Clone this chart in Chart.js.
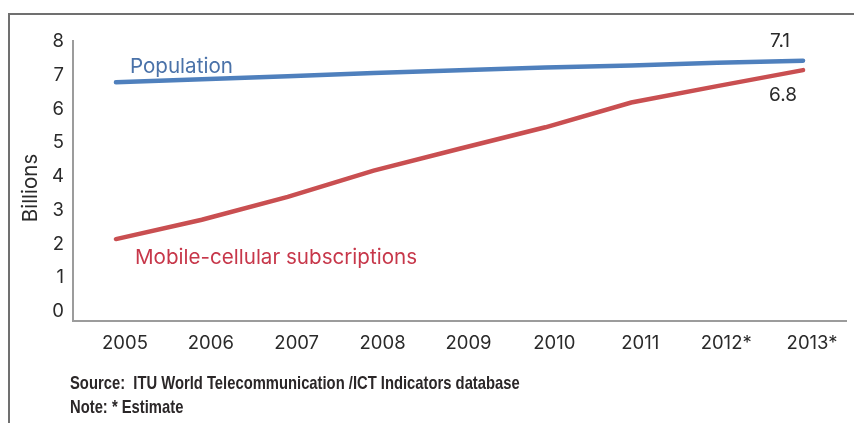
<!DOCTYPE html>
<html>
<head>
<meta charset="utf-8">
<script src="https://cdn.jsdelivr.net/npm/chart.js@4.4.0/dist/chart.umd.min.js"></script>
<style>
    body { margin: 0; background: #fff; }
    #wrap { position: relative; width: 854px; height: 423px; overflow: hidden; }
    #frame { position: absolute; left: 8px; top: 13px; width: 900px; height: 500px; border-top: 2px solid #707070; border-left: 2px solid #707070; }
    #chart { position: absolute; left: 0; top: 0; }
    .note { position: absolute; left: 70px; font: bold 18.5px 'Liberation Sans', Arial, sans-serif; color: #2b2728; white-space: pre; transform-origin: 0 0; }
</style>
</head>
<body>
<div id="wrap">
    <div id="frame"></div>
    <canvas id="chart" width="854" height="423"></canvas>
    <div class="note" id="source" style="top:372px">Source:  ITU World Telecommunication /ICT Indicators database</div>
    <div class="note" id="note" style="top:396px">Note: * Estimate</div>
</div>
<script>
// Chart data (billions)
const years = ["2005", "2006", "2007", "2008", "2009", "2010", "2011", "2012*", "2013*"];
const population = [6.51, 6.59, 6.67, 6.76, 6.84, 6.91, 6.97, 7.04, 7.1];
const mobileSubs = [2.2, 2.73, 3.36, 4.08, 4.68, 5.27, 5.95, 6.4, 6.84];
const yTickValues = [0, 1, 2, 3, 4, 5, 6, 7, 8];

const mainFont = "Inter, 'DejaVu Sans', sans-serif";
const textColor = "#2a2a2a";
const axisColor = "#9c9c9c";

// the footnote font is condensed in the original, squeeze the source line to its width
const sourceEl = document.getElementById("source");
const squeeze = 450 / sourceEl.offsetWidth;
sourceEl.style.transform = `scaleX(${squeeze})`;
document.getElementById("note").style.transform = `scaleX(${squeeze})`;

// Series names and end values written next to the lines
const annotate = {
    id: "annotate",
    afterDatasetsDraw(chart) {
        const ctx = chart.ctx;
        const xs = chart.scales.x, ys = chart.scales.y;
        const last = years.length - 1;
        ctx.save();
        ctx.textBaseline = "alphabetic";

        ctx.font = "20.6px " + mainFont;
        ctx.textAlign = "left";
        ctx.fillStyle = "#4a72a9";
        ctx.fillText("Population", xs.getPixelForValue(0) + 14, ys.getPixelForValue(population[0]) - 9);
        ctx.fillStyle = "#c7374a";
        ctx.fillText("Mobile-cellular subscriptions", xs.getPixelForValue(0) + 19, ys.getPixelForValue(mobileSubs[0]) + 25);

        ctx.font = "19px " + mainFont;
        ctx.textAlign = "center";
        ctx.fillStyle = textColor;
        ctx.fillText(population[last].toFixed(1), xs.getPixelForValue(last) - 23, ys.getPixelForValue(population[last]) - 14);
        ctx.fillText(mobileSubs[last].toFixed(1), xs.getPixelForValue(last) - 20, ys.getPixelForValue(mobileSubs[last]) + 31);

        // axis title
        ctx.translate(31, 188);
        ctx.rotate(-Math.PI / 2);
        ctx.textBaseline = "middle";
        ctx.font = "20.5px " + mainFont;
        ctx.fillText("Billions", 0, 0);
        ctx.restore();
    }
};

const ctx = document.getElementById("chart").getContext("2d");
const chart = new Chart(ctx, {
    type: "line",
    data: {
        labels: years,
        datasets: [
            { label: "Population", data: population, yAxisID: "y", borderColor: "#4f80bd", borderWidth: 4.5, borderCapStyle: "round", pointRadius: 0, tension: 0 },
            { label: "Mobile-cellular subscriptions", data: mobileSubs, yAxisID: "y", borderColor: "#c94f51", borderWidth: 4.5, borderCapStyle: "round", pointRadius: 0, tension: 0 }
        ]
    },
    options: {
        responsive: false,
        animation: false,
        devicePixelRatio: 1,
        layout: { padding: { top: 41, right: 8, left: 0, bottom: 0 } },
        plugins: { legend: { display: false }, tooltip: { enabled: false } },
        scales: {
            x: {
                offset: true,
                grid: { display: false, drawTicks: false },
                border: { display: true, color: axisColor, width: 2 },
                ticks: { color: textColor, font: { family: mainFont, size: 18.5 }, padding: 11, labelOffset: 9, maxRotation: 0, autoSkip: false },
                afterFit: axis => { axis.height = 102; }
            },
            // visible axis with the printed tick labels
            yLabels: {
                position: "left",
                min: -0.281,
                max: 8.015,
                grid: { display: false, drawTicks: false },
                border: { display: true, color: axisColor, width: 2 },
                ticks: { color: textColor, font: { family: mainFont, size: 18.5 }, padding: 9 },
                afterBuildTicks: axis => { axis.ticks = yTickValues.map(v => ({ value: v })); },
                afterFit: axis => { axis.width = 73; }
            },
            // data axis the lines are plotted on
            y: {
                display: false,
                min: -0.05,
                max: 7.64
            }
        }
    },
    plugins: [annotate]
});
</script>
</body>
</html>
